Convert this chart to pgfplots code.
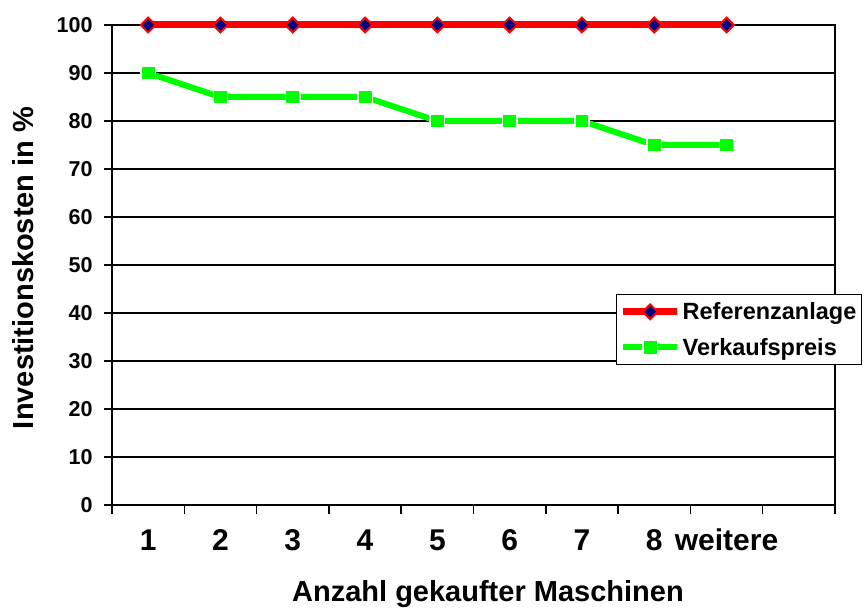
\documentclass[border=0pt]{standalone}
\usepackage{pgfplots}
\pgfplotsset{compat=1.18}
\usepackage{fontspec}
\setmainfont{Liberation Sans}
\definecolor{xred}{HTML}{FF0000}
\definecolor{xnavy}{HTML}{000080}
\definecolor{xlime}{HTML}{00FF00}
\begin{document}
\begin{tikzpicture}
\begin{axis}[
  at={(112pt,105pt)}, anchor=south west,
  scale only axis, width=723pt, height=480pt,
  xmin=0.5, xmax=10.5, ymin=0, ymax=100,
  clip=false,
  xtick={1,...,10},
  xticklabels={1,2,3,4,5,6,7,8,weitere,{}},
  minor xtick={0.5,1.5,...,10.5},
  ytick={0,10,...,100},
  xtick pos=bottom, ytick pos=left,
  tick align=outside,
  major tick length=8pt,
  minor tick length=9pt,
  major x tick style={draw=none},
  ymajorgrids,
  grid style={black, line width=1.4pt},
  axis line style={black, line width=1.8pt},
  every tick/.style={black, line width=1.5pt},
  /pgf/number format/assume math mode=true,
  xticklabel style={font=\fontsize{30}{30}\selectfont\bfseries, anchor=base, yshift=-37pt},
  yticklabel style={font=\fontsize{21.5}{21.5}\selectfont\bfseries, xshift=-8pt},
  xlabel={Anzahl gekaufter Maschinen},
  ylabel={Investitionskosten in \%},
  xlabel style={font=\fontsize{29}{29}\selectfont\bfseries, at={(axis description cs:0.52,-0.202)}, anchor=base},
  ylabel style={font=\fontsize{29}{29}\selectfont\bfseries, at={(axis description cs:-0.123,0.494)}, anchor=center},
  legend style={at={(axis description cs:0.697,0.44)}, anchor=north west,
    draw=black, line width=1.5pt, font=\fontsize{23.5}{23.5}\selectfont\bfseries,
    inner xsep=3pt, inner ysep=6pt, row sep=13pt, fill=white},
  legend cell align=left,
  legend image code/.code={\draw[#1, mark repeat=2, mark phase=2] plot coordinates {(0pt,0pt)(27pt,0pt)(54pt,0pt)};},
]
\addplot[xred, line width=7pt, mark=square*, mark size=5.2pt,
  mark options={fill=xnavy, draw=xred, line width=2pt, rotate=45}]
  coordinates {(1,100)(2,100)(3,100)(4,100)(5,100)(6,100)(7,100)(8,100)(9,100)};
\addlegendentry{Referenzanlage}
\addplot[xlime, line width=6pt, mark=square*, mark size=7.2pt,
  mark options={fill=xlime, draw=white, line width=1.5pt}]
  coordinates {(1,90)(2,85)(3,85)(4,85)(5,80)(6,80)(7,80)(8,75)(9,75)};
\addlegendentry{Verkaufspreis}
\end{axis}
\pgfresetboundingbox
\path (0,0) rectangle (867pt,610pt);
\end{tikzpicture}
\end{document}
